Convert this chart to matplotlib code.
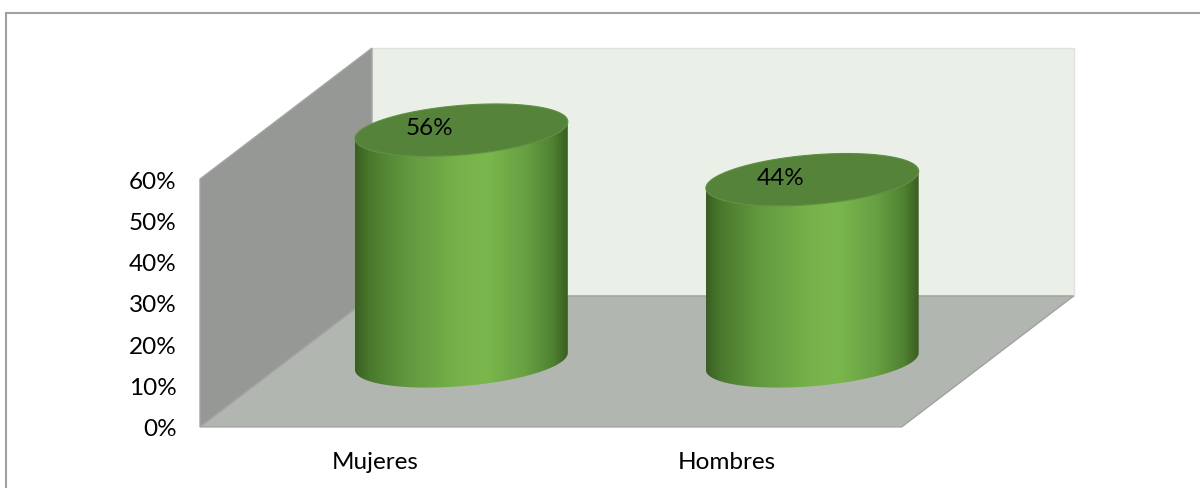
import numpy as np
import matplotlib.pyplot as plt
from matplotlib.patches import Polygon, Rectangle
from matplotlib.colors import LinearSegmentedColormap

categorias = ['Mujeres', 'Hombres']
porcentajes = [56, 44]
etiquetas = ['56%', '44%']
ticks_y = [0, 10, 20, 30, 40, 50, 60]

plt.rcParams['font.family'] = ['Lato', 'DejaVu Sans']

fig = plt.figure(figsize=(12, 4.89), dpi=100)
ax = fig.add_axes([0, 0, 1, 1])

# profundidad oblicua de la caja (unidades de categoria y de porcentaje)
dx, dy = 0.49, 31.7
x0, x1 = -0.5, len(categorias) - 0.5
ymax = 60

# paredes y piso
piso = Polygon([(x0, 0), (x1, 0), (x1 + dx, dy), (x0 + dx, dy)],
               fc='#b2b6b1', ec='#9fa29e', lw=1)
pared_fondo = Polygon([(x0 + dx, dy), (x1 + dx, dy), (x1 + dx, ymax + dy), (x0 + dx, ymax + dy)],
                      fc='#eaefe8', ec='#dfe3dd', lw=1)
pared_izq = Polygon([(x0, 0), (x0, ymax), (x0 + dx, ymax + dy), (x0 + dx, dy)],
                    fc='#959895', ec='#a3a6a2', lw=1)
for p in (pared_fondo, piso, pared_izq):
    ax.add_patch(p)

# cilindros
a, b = 0.287, 0.2
ts = np.arctan2(b * dx, a)
verde = LinearSegmentedColormap.from_list('verde', [
    (0.0, '#3a5f22'), (0.07, '#4a7a2d'), (0.25, '#62993f'), (0.5, '#77b34a'),
    (0.62, '#7ab74c'), (0.8, '#68a043'), (0.93, '#4f8231'), (1.0, '#3a5e20')])


def elipse(cx, cy, t):
    return np.column_stack([cx + a * np.cos(t) + b * dx * np.sin(t),
                            cy + b * dy * np.sin(t)])


for i, v in enumerate(porcentajes):
    cx = i + dx / 2
    y_base = dy / 2
    y_top = v + dy / 2
    t = np.linspace(ts + np.pi, ts + 2 * np.pi, 120)
    lado = np.vstack([elipse(cx, y_base, t), elipse(cx, y_top, t[::-1])])
    contorno = Polygon(lado, closed=True, fc='none', ec='none')
    ax.add_patch(contorno)
    w = np.hypot(a, b * dx)
    im = ax.imshow(np.linspace(0, 1, 256)[None, :], cmap=verde, aspect='auto',
                   extent=(cx - w, cx + w, y_base - b * dy - 1, y_top + b * dy + 1),
                   interpolation='bilinear', zorder=3)
    im.set_clip_path(contorno)
    im.set_clip_box(None)
    tapa = Polygon(elipse(cx, y_top, np.linspace(0, 2 * np.pi, 200)), closed=True,
                   fc='#56833a', ec='#5f8f3f', lw=0.8, zorder=4)
    ax.add_patch(tapa)
    ax.text(cx - 0.09, y_top + 0.6, etiquetas[i], ha='center', va='center',
            fontsize=17.5, color='black', zorder=5)

# ejes: etiquetas sobre el borde frontal de la caja
ax.set_xlim(-1.07, 2.35)
ax.set_ylim(-14.8, 103.6)
ax.spines['left'].set_position(('data', x0))
ax.spines['bottom'].set_position(('data', 0))
for s in ax.spines.values():
    s.set_visible(False)
ax.set_yticks(ticks_y, [f'{t}%' for t in ticks_y])
ax.set_xticks(range(len(categorias)), categorias)
ax.tick_params(axis='y', length=0, labelsize=17.5, pad=17)
ax.tick_params(axis='x', length=0, labelsize=17.5, pad=17.5)

# marco exterior
fig.add_artist(Rectangle((5.5 / 1200, -0.05), 1.0, 1 - 13.5 / 489 + 0.05,
                         transform=fig.transFigure, fill=False, ec='#a0a0a0', lw=1.5))

fig.savefig('out.png', dpi=100)
